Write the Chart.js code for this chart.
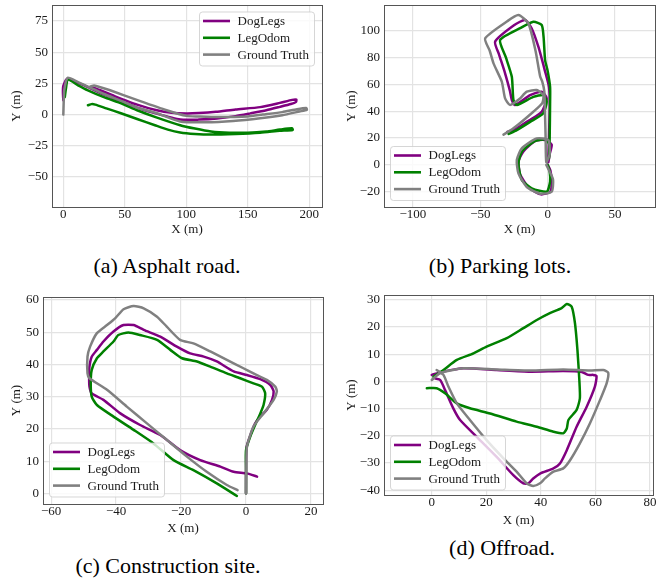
<!DOCTYPE html>
<html>
<head>
<meta charset="utf-8">
<title>Trajectories</title>
<script src="https://cdn.jsdelivr.net/npm/chart.js@4.4.0/dist/chart.umd.min.js"></script>
<style>
    body { margin: 0; background: #fff; width: 665px; height: 578px; position: relative; overflow: hidden; font-family: "Liberation Serif", serif; }
    .panel { position: absolute; }
    .caption { position: absolute; font-size: 22px; color: #000; transform: translate(-50%, -50%); white-space: nowrap; }
</style>
</head>
<body>
<div class="panel" style="left:0;top:0"><canvas id="chartA" width="330" height="240"></canvas></div>
<div class="panel" style="left:330px;top:0"><canvas id="chartB" width="335" height="240"></canvas></div>
<div class="panel" style="left:0;top:290px"><canvas id="chartC" width="330" height="250"></canvas></div>
<div class="panel" style="left:330px;top:290px"><canvas id="chartD" width="335" height="240"></canvas></div>

<div class="caption" style="left:167px;top:266px">(a) Asphalt road.</div>
<div class="caption" style="left:500px;top:266px">(b) Parking lots.</div>
<div class="caption" style="left:168px;top:566px">(c) Construction site.</div>
<div class="caption" style="left:502px;top:548px">(d) Offroad.</div>

<script>
// Series names and colours (same for every panel)
const seriesNames = ['DogLegs', 'LegOdom', 'Ground Truth'];
const seriesColors = ['#800080', '#008000', '#808080'];

// (a) Asphalt road
const asphaltDogLegs = [[0,11.5],[-0.3,18],[0,23],[3.5,29],[12,25.5],[20,22],[33,16],[47,10.5],[60,5.5],[75,1],[95,-3.9],[110,-4],[125,-3.2],[140,-1.2],[152,1],[165,3.5],[176,6.2],[185,8.5],[189,10],[189.5,12],[186,11.8],[176,9.4],[160,6],[140,4.1],[124,2.2],[110,1.2],[100,0.9],[88,1.5],[76,3.5],[60,8],[40,15.5],[30,19.5],[25,21.3],[22,21.5]];
const asphaltLegOdom = [[1.2,14],[2,20],[3.8,28],[12,23.5],[20,19.5],[33,14],[47.5,8.9],[60,3.5],[75,-2],[95,-8.5],[107,-11.2],[120,-13.5],[135,-14.5],[150,-14.5],[165,-13.5],[176,-12],[186,-11],[186.5,-12.3],[176,-13],[160,-14.5],[140,-15.5],[120,-16],[107,-15.5],[95,-14.3],[85,-12],[74.5,-8.5],[60,-3.5],[47.4,0.9],[35,5],[26,8],[23,8.4],[20,7.5]];
const asphaltGroundTruth = [[0,0],[0.3,10],[0.8,20],[3.5,29.5],[12,26],[20,22.5],[33,16.5],[47,11],[60,5.5],[75,1.5],[95,-5.5],[116,-6.2],[138,-5.2],[160,-3],[178,-0.5],[192,2.5],[198,3.8],[197.5,5.2],[190,4.3],[178,2],[162,0],[150,-1.5],[125,-2],[110,-1.5],[100,-1],[84,3.5],[62,11],[38,19.5],[28,22.5],[25,23.3],[22,22.5]];
const asphaltXTicks = [0, 50, 100, 150, 200];
const asphaltYTicks = [-50, -25, 0, 25, 50, 75];

// (b) Parking lots
const parkingDogLegs = [[0,0],[2,-4],[3,-12],[2,-20],[-5,-22],[-14,-17],[-20.5,-7],[-21.5,3],[-18,10],[-9,18],[-2,18.5],[3,15],[1.5,8],[0.5,2],[1,20],[1.5,45],[1,58],[-2,70],[-6.9,88],[-12,102],[-16.8,107.9],[-25,104],[-39,91.8],[-36,82],[-31.6,68.2],[-28,55],[-26.6,48.3],[-24.2,44.6],[-13,52],[-4.4,54.5],[-0.7,49.6],[-4.4,39.6],[-14,33],[-22.9,27.2],[-30,24.5]];
const parkingLegOdom = [[0,0],[1.5,-5],[1.8,-12.6],[-0.7,-20],[-11.8,-17.5],[-19.2,-11.3],[-21.7,1.1],[-19.2,9.8],[-10,17.5],[-1,19],[1.5,14],[1,5],[1.5,20],[1.8,45],[1.8,58.2],[0,70],[-1.9,78.1],[-3,95],[-4.4,104.2],[-10.6,106.6],[-20,102],[-35.3,93],[-31,80],[-26.6,65.6],[-25.4,48.3],[-22.9,44.6],[-10.6,50.7],[-3.2,52],[-0.7,47],[-3.2,38.4],[-13,32],[-22.9,25.9],[-29,23]];
const parkingGroundTruth = [[-1,0],[1,-4],[4,-11],[3,-20],[-5.6,-21.5],[-15.5,-16.5],[-21.7,-6.3],[-22.9,3.6],[-19.2,12.3],[-8.1,19.7],[0.5,18.5],[1.5,8],[-1,2],[-1.5,20],[-2,40],[-2.5,55],[-4,62],[-5.6,66],[-9,85],[-14.3,105.4],[-21.7,111.6],[-30,107],[-46.4,94.3],[-43,85],[-40.2,75.6],[-34,61.9],[-31.6,49.5],[-27.9,44.6],[-21,49],[-15.5,54.5],[-8.1,55.7],[-3.2,52],[-4,46],[-10.6,39.6],[-25.4,27.2],[-32.8,22.5]];
const parkingXTicks = [-100, -50, 0, 50];
const parkingYTicks = [-20, 0, 20, 40, 60, 80, 100];

// (c) Construction site
const constructionDogLegs = [[0,0],[0,8],[0.2,14.5],[1.5,18.5],[2.8,21.7],[4.5,24],[6.4,25.9],[8,29],[8.5,31.6],[7.5,33.6],[4.4,35.4],[0.3,36.7],[-3.8,37.8],[-9,40.9],[-13,42.4],[-17.2,43.4],[-21.3,45.5],[-26.4,48.6],[-31.5,50.7],[-34.6,52.2],[-37.7,52.2],[-40.8,50.2],[-43.9,47.1],[-45.9,44.5],[-47.5,42.4],[-48.2,39.3],[-48.3,36],[-48.2,33.1],[-47.5,31],[-43.9,29],[-38.7,24.8],[-32.6,21.2],[-26.4,18.1],[-20.3,13.4],[-14.1,10.3],[-7.9,8.3],[-3.8,6.7],[0.3,6.2],[3.4,5.2]];
const constructionLegOdom = [[0,0],[0,8],[0,13.4],[1.3,17.6],[2.8,21.2],[4.4,24.8],[5.4,27.4],[5.9,31],[4.9,33.1],[2.3,34.1],[-1.8,35.7],[-5.9,37.2],[-11,39.3],[-15.1,40.9],[-19.7,41.9],[-23.3,44.5],[-27.4,47.6],[-32.6,49.1],[-36.2,49.9],[-39.3,49.1],[-40.8,47.1],[-43.9,44],[-45.9,41.9],[-47.5,38.3],[-47.8,34],[-47.5,30],[-45.9,27.4],[-40.8,23.8],[-34.6,19.7],[-28.5,15.5],[-22.3,10.3],[-16.2,7.2],[-9,3.1],[-2.8,-0.8]];
const constructionGroundTruth = [[0,0],[0.1,8],[0.3,14.5],[2.3,20.7],[5.4,24.8],[8.5,29],[9.5,31.6],[9,33.1],[6.4,35.2],[2.3,37.2],[-0.8,38.8],[-5.9,41.4],[-11,44],[-16.2,46.5],[-20.3,47.6],[-24.4,51.7],[-27.4,54.8],[-31.5,57.4],[-34.6,58.1],[-37.7,57.1],[-40.3,54.3],[-42.8,52.2],[-45.9,49.7],[-48,45.5],[-48.8,42.4],[-48.8,37.2],[-48.2,35.7],[-42.8,32.1],[-36.7,26.9],[-30.5,21.7],[-24.4,16.6],[-18.2,11.4],[-12.1,6.7],[-5.9,2.6],[-2.6,1]];
const constructionXTicks = [-60, -40, -20, 0, 20];
const constructionYTicks = [0, 10, 20, 30, 40, 50, 60];

// (d) Offroad
const offroadDogLegs = [[0,2.4],[4.3,3.6],[11.6,4.8],[23.8,4.2],[36,3.6],[48.2,3.8],[55,3.5],[57.4,2.4],[59.2,2.4],[60.4,2],[59.8,-1.9],[56.8,-9.3],[53.1,-16.7],[49.5,-25.3],[47,-30.2],[44.6,-32],[39.7,-33.9],[37.2,-35.7],[35.4,-37.5],[33.6,-37.5],[29.9,-34.5],[23.8,-27.8],[16.5,-20.4],[10.4,-14.2],[7.9,-9.9],[4.9,-3.2],[3.1,0.5],[1.2,1.1]];
const offroadLegOdom = [[-1.8,-2.5],[1.8,-2.5],[4.9,-4.4],[9.2,-8.1],[14,-9.9],[21.4,-11.8],[31.1,-14.8],[38.5,-16.7],[44.6,-18.5],[48.2,-19.1],[49.5,-17.3],[50.1,-14.2],[53.1,-10.5],[54.3,-6.2],[54.1,0.5],[53.4,11.6],[52.5,21.4],[51.3,27.5],[49.5,28.5],[47.6,27],[43.3,25.1],[38.5,22.6],[33.6,19.6],[27.5,15.9],[20.1,12.8],[15.3,10.3],[9.2,7.9],[4.3,4.2],[0.6,1.7]];
const offroadGroundTruth = [[0,0.5],[3,3],[11.6,4.8],[23.8,4.4],[36,4],[48.2,4.4],[58,4],[62.9,4.2],[64.7,3.2],[64.1,-0.7],[61.7,-6.8],[58,-15.4],[54.3,-22.8],[50.7,-29],[48.2,-32],[44.6,-33.2],[41.5,-35.7],[39.7,-37.5],[37.2,-38.5],[34.8,-37.5],[31.1,-33.2],[26.3,-28.3],[20.1,-21.6],[14,-14.2],[9.2,-8.1],[6.1,-1.9],[4.3,2.4],[1.8,4.2]];
const offroadXTicks = [0, 20, 40, 60, 80];
const offroadYTicks = [-40, -30, -20, -10, 0, 10, 20, 30];

const FONT = 'Liberation Serif';
const TEXT_COLOR = '#1a1a1a';

// Dark box around the plot area (matplotlib style spines)
const framePlugin = {
    id: 'frame',
    afterDraw(chart) {
        const { ctx, chartArea: a } = chart;
        ctx.save();
        ctx.strokeStyle = '#555';
        ctx.lineWidth = 1;
        ctx.strokeRect(Math.round(a.left) + 0.5, Math.round(a.top) + 0.5, Math.round(a.right - a.left), Math.round(a.bottom - a.top));
        ctx.restore();
    }
};

// Legend drawn inside the plot area, position comes from options
const insideLegend = {
    id: 'insideLegend',
    afterDatasetsDraw(chart, args, opts) {
        const ctx = chart.ctx;
        const sets = chart.data.datasets;
        ctx.save();
        ctx.font = `13px "${FONT}"`;
        const textW = Math.max(...sets.map(d => ctx.measureText(d.label).width));
        const w = Math.round(textW + 44), h = 54;
        const x = opts.x, y = opts.y;
        ctx.fillStyle = 'rgba(255,255,255,0.8)';
        ctx.strokeStyle = 'rgba(204,204,204,0.8)';
        ctx.lineWidth = 1;
        ctx.beginPath();
        ctx.roundRect(x + 0.5, y + 0.5, w, h, 3);
        ctx.fill();
        ctx.stroke();
        sets.forEach((d, i) => {
            const cy = y + 9.5 + i * 16.8;
            ctx.strokeStyle = d.borderColor;
            ctx.lineWidth = 2.6;
            ctx.beginPath();
            ctx.moveTo(x + 4, cy);
            ctx.lineTo(x + 31, cy);
            ctx.stroke();
            ctx.fillStyle = TEXT_COLOR;
            ctx.textBaseline = 'middle';
            ctx.fillText(d.label, x + 38.5, cy + 0.5);
        });
        ctx.restore();
    }
};

const tickLabel = v => String(v).replace('-', '\u2212');

function makeChart(id, spec) {
    const font = { family: FONT, size: 13 };
    const grid = { color: '#e3e3e3', lineWidth: 1.2, drawTicks: false };
    return new Chart(document.getElementById(id), {
        type: 'scatter',
        data: {
            datasets: spec.series.map((pts, i) => ({
                label: seriesNames[i],
                data: pts.map(([x, y]) => ({ x, y })),
                borderColor: seriesColors[i],
                backgroundColor: seriesColors[i],
                showLine: true,
                pointRadius: 0,
                borderWidth: 2.5,
                tension: 0.2,
                borderJoinStyle: 'round',
                borderCapStyle: 'round',
                order: 2 - i // ground truth on top
            }))
        },
        options: {
            responsive: false,
            animation: false,
            events: [],
            layout: { padding: spec.pad },
            plugins: {
                legend: { display: false },
                tooltip: { enabled: false },
                insideLegend: spec.legend
            },
            scales: {
                x: {
                    type: 'linear',
                    min: spec.xRange[0],
                    max: spec.xRange[1],
                    afterBuildTicks: s => { s.ticks = spec.xTicks.map(v => ({ value: v })); },
                    afterFit: s => { s.height = spec.xAxisH; s.paddingLeft = 0; s.paddingRight = 0; },
                    grid: grid,
                    border: { display: false },
                    ticks: { padding: 0, font: font, color: TEXT_COLOR, callback: tickLabel, maxRotation: 0 },
                    title: { display: true, text: 'X (m)', font: font, color: TEXT_COLOR, padding: { top: 0, bottom: spec.xTitlePad } }
                },
                y: {
                    type: 'linear',
                    min: spec.yRange[0],
                    max: spec.yRange[1],
                    afterBuildTicks: s => { s.ticks = spec.yTicks.map(v => ({ value: v })); },
                    afterFit: s => { s.width = spec.yAxisW; s.paddingTop = 0; s.paddingBottom = 0; },
                    grid: grid,
                    border: { display: false },
                    ticks: { padding: 4, font: font, color: TEXT_COLOR, callback: tickLabel },
                    title: { display: true, text: 'Y (m)', font: font, color: TEXT_COLOR, padding: { top: spec.yTitlePad, bottom: 0 } }
                }
            }
        },
        plugins: [framePlugin, insideLegend]
    });
}

makeChart('chartA', {
    series: [asphaltDogLegs, asphaltLegOdom, asphaltGroundTruth],
    xRange: [-9.2, 210.3], yRange: [-74, 87.8],
    xTicks: asphaltXTicks, yTicks: asphaltYTicks,
    pad: { left: 0, top: 5, right: 8, bottom: 0 },
    yAxisW: 52, xAxisH: 33, xTitlePad: 3, yTitlePad: 9,
    legend: { x: 199, y: 11.5 }
});

makeChart('chartB', {
    series: [parkingDogLegs, parkingLegOdom, parkingGroundTruth],
    xRange: [-121.5, 79.7], yRange: [-31.4, 119.1],
    xTicks: parkingXTicks, yTicks: parkingYTicks,
    pad: { left: 0, top: 5, right: 10, bottom: 0 },
    yAxisW: 54, xAxisH: 33, xTitlePad: 3, yTitlePad: 14,
    legend: { x: 60, y: 146 }
});

makeChart('chartC', {
    series: [constructionDogLegs, constructionLegOdom, constructionGroundTruth],
    xRange: [-62.5, 23.7], yRange: [-3.3, 60.9],
    xTicks: constructionXTicks, yTicks: constructionYTicks,
    pad: { left: 0, top: 7, right: 7, bottom: 0 },
    yAxisW: 43, xAxisH: 36, xTitlePad: 4, yTitlePad: 9,
    legend: { x: 49, y: 152.5 }
});

makeChart('chartD', {
    series: [offroadDogLegs, offroadLegOdom, offroadGroundTruth],
    xRange: [-17.5, 81.1], yRange: [-41.8, 31.8],
    xTicks: offroadXTicks, yTicks: offroadYTicks,
    pad: { left: 0, top: 5, right: 12, bottom: 0 },
    yAxisW: 54, xAxisH: 35, xTitlePad: 2, yTitlePad: 14,
    legend: { x: 60, y: 145.5 }
});
</script>
</body>
</html>
